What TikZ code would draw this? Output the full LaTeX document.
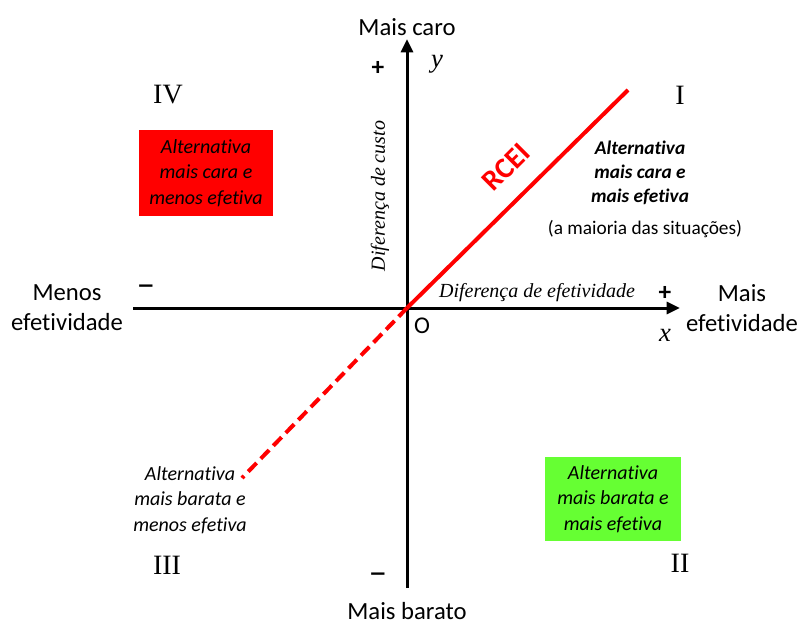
\documentclass[tikz,border=0pt]{standalone}
\usepackage{fontspec}
\setmainfont[Ligatures=NoCommon]{Carlito}
\newfontfamily\romanfont{Liberation Serif}
\usepackage{tikz}
\usetikzlibrary{arrows.meta}
\definecolor{boxgreen}{RGB}{102,255,51}
\tikzset{
    axis/.style={line width=2.25pt, -{Triangle[length=10pt,width=9pt]}},
    rcei/.style={red, line width=3pt},
    quadrant/.style={font=\romanfont\fontsize{21}{24}\selectfont},
    sidelabel/.style={align=center, font=\fontsize{18.5}{22.5}\selectfont},
    signlabel/.style={font=\bfseries\fontsize{19}{20}\selectfont},
    minuslabel/.style={font=\fontsize{28}{30}\selectfont},
    boxlabel/.style={align=center, inner sep=0pt, font=\itshape\fontsize{15}{19}\selectfont},
    axislabel/.style={font=\romanfont\itshape\fontsize{15}{18}\selectfont},
    varlabel/.style={font=\romanfont\itshape\fontsize{20}{22}\selectfont}
}

\begin{document}
\begin{tikzpicture}[x=0.75pt, y=-0.75pt]
    \useasboundingbox (0,0) rectangle (803,624);

    % axes
    \coordinate (O) at (407,308);
    \coordinate (xl) at (133,308);
    \coordinate (xr) at (680,308);
    \coordinate (yb) at (407,588);
    \coordinate (yt) at (407,39);
    \draw[axis] (xl) -- (xr);
    \draw[axis] (yb) -- (yt);

    % RCEI line
    \coordinate (rtop) at (628,90);
    \coordinate (rbot) at (242,478);
    \draw[rcei] (O) -- (rtop);
    \draw[rcei, dash pattern=on 9pt off 4.5pt] (O) -- (rbot);
    \node[red, inner sep=1pt, font=\bfseries\fontsize{22}{24}\selectfont, rotate=45] (rlabel) at (506,167) {RCEI};

    % axis ends
    \node[sidelabel] (top) at (407,27) {Mais caro};
    \node[sidelabel, anchor=base, inner sep=0pt] (bottom) at (407,619) {Mais barato};
    \node[sidelabel] (left) at (67,308) {Menos\\efetividade};
    \node[sidelabel] (right) at (742,308) {Mais\\efetividade};

    \node[signlabel] (yplus) at (378,68) {+};
    \node[minuslabel] (yminus) at (378,579) {–};
    \node[signlabel] (xplus) at (665,293) {+};
    \node[minuslabel] (xminus) at (146,291) {–};

    \node[varlabel] (ylab) at (437,64) {y};
    \node[varlabel] (xlab) at (665,335) {x};
    \node[font=\fontsize{18}{20}\selectfont] (olab) at (422,326) {O};
    \node[axislabel, rotate=90] (costlab) at (380,196) {Diferença de custo};
    \node[axislabel] (efflab) at (537,293) {Diferença de efetividade};

    % quadrants
    \node[quadrant] (q1) at (680,95) {I};
    \node[quadrant] (q2) at (680,563) {II};
    \node[quadrant] (q3) at (167,565) {III};
    \node[quadrant] (q4) at (168,95) {IV};

    % alternatives
    \node[boxlabel, fill=red, minimum width=101pt, minimum height=64.5pt] (alt4) at (206,173)
        {Alternativa\\mais cara e\\menos efetiva};
    \node[boxlabel, font=\bfseries\itshape\fontsize{14.5}{18}\selectfont] (alt1) at (640,173)
        {Alternativa\\mais cara e\\mais efetiva};
    \node[font=\fontsize{14.5}{17}\selectfont] (note1) at (645,229) {(a maioria das situações)};
    \node[boxlabel, fill=boxgreen, minimum width=102pt, minimum height=63pt] (alt2) at (613,499)
        {Alternativa\\mais barata e\\mais efetiva};
    \node[boxlabel] (alt3) at (190,500) {Alternativa\\mais barata e\\menos efetiva};
\end{tikzpicture}
\end{document}
